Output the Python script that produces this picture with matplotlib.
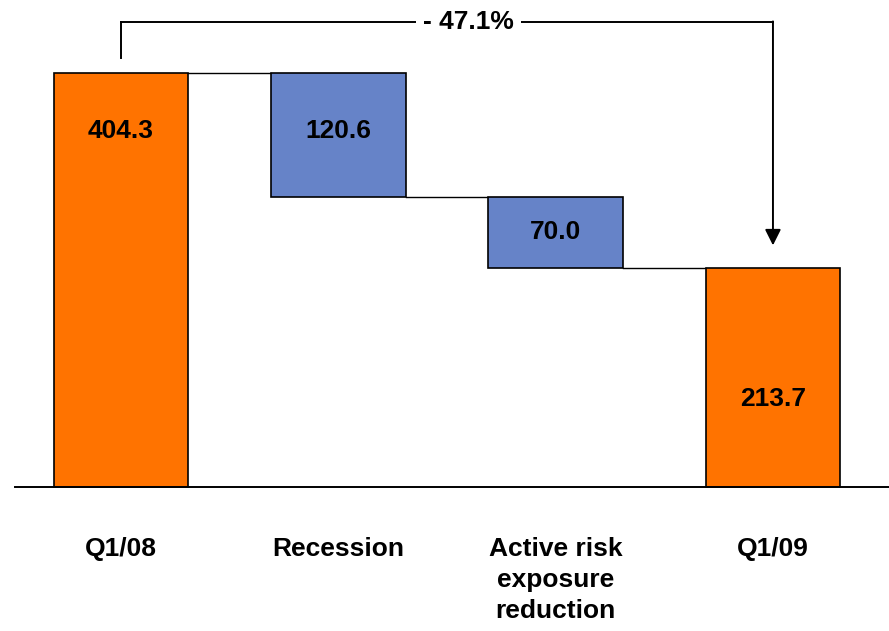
import matplotlib
matplotlib.use("Agg")
import matplotlib.pyplot as plt
from matplotlib import font_manager

# Waterfall data
categories = ["Q1/08", "Recession", "Active risk\nexposure\nreduction", "Q1/09"]
start_value = 404.3
changes = [120.6, 70.0]
end_value = 213.7
change_label = "- 47.1%"

names = {f.name for f in font_manager.fontManager.ttflist}
family = ["Liberation Sans Narrow", "Liberation Sans", "DejaVu Sans"]
family = [f for f in family if f in names] or ["DejaVu Sans"]
plt.rcParams["font.family"] = family

orange = "#FF7300"
blue = "#6683C8"

fig = plt.figure(figsize=(8.89, 6.31), dpi=100)
ax = fig.add_axes([0, 0, 1, 1])
ax.set_xlim(-0.557, 3.534)
ax.set_ylim(-140.6, 475.6)
ax.axis("off")

width = 0.62
x = [0, 1, 2, 3]

# Bars
bottoms = [0]
heights = [start_value]
level = start_value
for c in changes:
    level -= c
    bottoms.append(level)
    heights.append(c)
bottoms.append(0)
heights.append(end_value)
colors = [orange, blue, blue, orange]

ax.bar(x, heights, bottom=bottoms, width=width, color=colors,
       edgecolor="black", linewidth=1.2, zorder=3)

# Connector lines between bar levels
levels = [start_value]
lv = start_value
for c in changes:
    lv -= c
    levels.append(lv)
for i, lvl in enumerate(levels):
    ax.plot([x[i] + width / 2, x[i + 1] - width / 2], [lvl, lvl],
            color="black", lw=1.0, zorder=2)

# Baseline
ax.plot([-0.49, 3.534], [0, 0], color="black", lw=1.4, zorder=4)

# Value labels inside bars
lab_fs = 19
ax.text(x[0], start_value - 57, f"{start_value:.1f}", ha="center", va="center",
        fontsize=lab_fs, fontweight="bold")
ax.text(x[1], start_value - 57, f"{changes[0]:.1f}", ha="center", va="center",
        fontsize=lab_fs, fontweight="bold")
ax.text(x[2], bottoms[2] + changes[1] / 2, f"{changes[1]:.1f}", ha="center",
        va="center", fontsize=lab_fs, fontweight="bold")
ax.text(x[3], end_value * 0.4, f"{end_value:.1f}", ha="center", va="center",
        fontsize=lab_fs, fontweight="bold")

# Category labels
for xi, cat in zip(x, categories):
    ax.text(xi, -49, cat, ha="center", va="top", fontsize=19,
            fontweight="bold", linespacing=1.36)

# Overall change bracket
y_br = 454
ax.plot([x[0], x[0]], [419, y_br], color="black", lw=1.4)
ax.plot([x[0], x[3]], [y_br, y_br], color="black", lw=1.4)
ax.annotate("", xy=(x[3], 236), xytext=(x[3], y_br + 0.7),
            arrowprops=dict(arrowstyle="-|>", color="black", lw=1.4,
                            mutation_scale=24, shrinkA=0, shrinkB=0))
ax.text(1.6, y_br, change_label, ha="center", va="center", fontsize=19,
        fontweight="bold",
        bbox=dict(facecolor="white", edgecolor="none", pad=5))

fig.savefig("out.png", dpi=100)
